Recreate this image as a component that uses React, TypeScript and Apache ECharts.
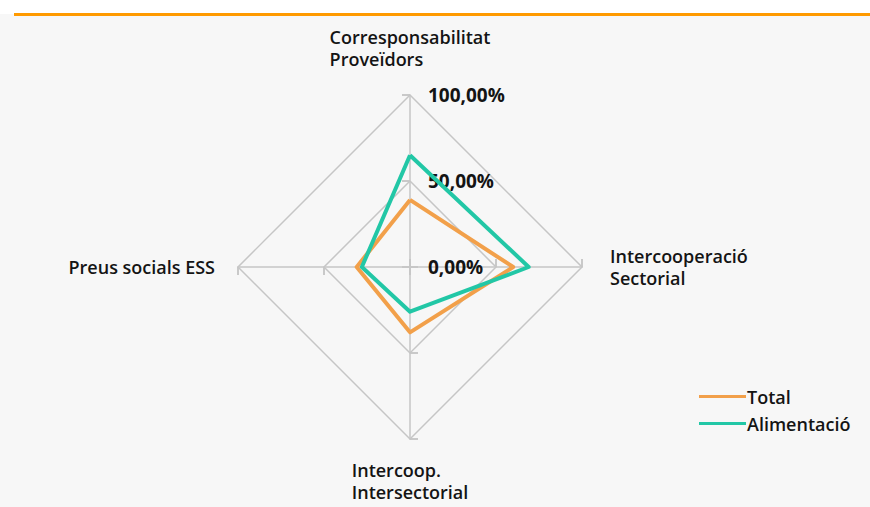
import React, { useEffect, useRef } from "react";
import * as echarts from "echarts";

const indicators = [
  "Corresponsabilitat\nProveïdors",
  "Preus socials ESS",
  "Intercoop.\nIntersectorial",
  "Intercooperació\nSectorial",
];
const axisMax = 100;
const seriesNames = ["Total", "Alimentació"];
const totalValues = [39, 31, 38, 60];
const alimentacioValues = [65, 28, 26, 69];
const colors = ["#F2A04A", "#22C7A6"];
const nameGaps = [25, 23, 20, 28];

const FONT = "'Open Sans', 'Noto Sans', sans-serif";

export default function App() {
  const ref = useRef<HTMLDivElement>(null);
  useEffect(() => {
    document.body.style.margin = "0";
    const chart = echarts.init(ref.current!, null, { renderer: "svg" });
    const fmt = (v: number) => v.toFixed(2).replace(".", ",") + "%";
    const ind = indicators.map((n, i) => {
      const o: any = { name: n, max: axisMax, min: 0, nameGap: nameGaps[i] };
      if (i === 0) {
        o.axisLabel = {
          show: true,
          formatter: fmt,
          margin: -18,
          align: "left",
          color: "#141414",
          fontFamily: FONT,
          fontWeight: "bold",
          fontSize: 19,
        };
      }
      return o;
    });
    const gridColor = "#c6c6c6";
    chart.setOption({
      animation: false,
      backgroundColor: "#f7f7f7",
      graphic: [
        { type: "rect", shape: { x: 0, y: 0, width: 870, height: 14 }, style: { fill: "#ffffff" }, silent: true },
        { type: "rect", shape: { x: 14, y: 13, width: 856, height: 3 }, style: { fill: "#FF9A00" }, silent: true },
      ],
      legend: {
        orient: "vertical",
        left: 694,
        top: 381,
        icon: "rect",
        itemWidth: 47,
        itemHeight: 3,
        itemGap: 6,
        data: seriesNames,
        textStyle: { fontFamily: FONT, fontSize: 18, lineHeight: 21, color: "#141414", fontWeight: 600, padding: [0, 0, 0, -4] },
      },
      radar: [
        {
          center: [410, 267],
          radius: 172,
          shape: "polygon",
          splitNumber: 2,
          startAngle: 90,
          indicator: ind,
          axisName: {
            color: "#141414",
            fontFamily: FONT,
            fontSize: 18,
            fontWeight: 600,
            formatter: (v: string) => v.split("\n").map((l) => "{a|" + l + "}").join("\n"),
            rich: { a: { align: "left", fontFamily: FONT, fontSize: 18, fontWeight: 600, color: "#141414", lineHeight: 22 } },
          },
          nameGap: 25,
          splitLine: { lineStyle: { color: gridColor, width: 1.5 } },
          splitArea: { show: false },
          axisLine: { lineStyle: { color: gridColor, width: 1.5 } },
          axisTick: { show: true, length: 8, lineStyle: { color: gridColor, width: 1.5 } },
          axisLabel: { show: false },
        },
        {
          center: [410, 267],
          radius: 172,
          shape: "polygon",
          splitNumber: 2,
          startAngle: 90,
          indicator: indicators.map(() => ({ name: "", max: axisMax, min: 0 })),
          axisName: { show: false },
          splitLine: { show: false },
          splitArea: { show: false },
          axisLine: { show: false },
          axisTick: { show: true, inside: true, length: 8, lineStyle: { color: gridColor, width: 1.5 } },
          axisLabel: { show: false },
        },
      ],
      series: [
        {
          type: "radar",
          radarIndex: 0,
          symbol: "none",
          data: [
            { name: seriesNames[0], value: totalValues, lineStyle: { color: colors[0], width: 4 }, itemStyle: { color: colors[0] } },
            { name: seriesNames[1], value: alimentacioValues, lineStyle: { color: colors[1], width: 4 }, itemStyle: { color: colors[1] } },
          ],
        },
      ],
    });
    return () => chart.dispose();
  }, []);
  return <div ref={ref} style={{ width: 870, height: 507 }} />;
}
